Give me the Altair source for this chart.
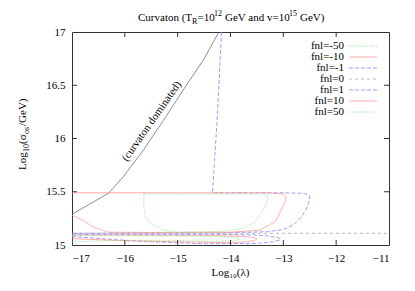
import altair as alt
import pandas as pd

# ---- data ----
black_x = [-17, -16.75, -16.47, -16.3, -16.03, -15.65, -15.27, -14.89, -14.51, -14.22]
black_y = [15.29, 15.36, 15.44, 15.49, 15.64, 15.89, 16.17, 16.46, 16.74, 17.0]

blue_up_x = [-14.17, -14.25, -14.34, -13.5, -13.0, -12.6, -12.5, -12.52, -12.55, -12.65, -12.8, -13.0, -13.3, -14.0, -15.5, -17.0]
blue_up_y = [17.0, 16.2, 15.49, 15.49, 15.49, 15.485, 15.46, 15.4, 15.35, 15.27, 15.19, 15.145, 15.125, 15.115, 15.112, 15.11]

blue_low_x = [-17.0, -16.2, -15.5, -14.5, -13.5, -13.2, -13.08, -13.05, -13.1, -13.3, -13.6, -14.5, -17.0]
blue_low_y = [15.08, 15.05, 15.03, 15.012, 15.015, 15.03, 15.045, 15.055, 15.07, 15.085, 15.095, 15.1, 15.1]

red_up_x = [-17.0, -15.0, -13.3, -13.0, -12.95, -12.97, -13.02, -13.15, -13.44, -14.0, -15.5, -16.3, -16.6, -16.79, -17.0]
red_up_y = [15.49, 15.49, 15.49, 15.48, 15.45, 15.4, 15.35, 15.22, 15.14, 15.12, 15.118, 15.12, 15.17, 15.23, 15.28]

red_low_x = [-17.0, -16.0, -15.0, -14.0, -13.7, -13.55, -13.5, -13.55, -13.7, -14.5, -17.0]
red_low_y = [15.06, 15.04, 15.03, 15.022, 15.03, 15.042, 15.055, 15.068, 15.08, 15.09, 15.095]

green_up_x = [-15.64, -14.5, -13.4, -13.29, -13.31, -13.38, -13.53, -13.8, -14.25, -15.0, -15.28, -15.5, -15.6, -15.64, -15.64]
green_up_y = [15.48, 15.48, 15.48, 15.46, 15.4, 15.33, 15.22, 15.15, 15.125, 15.12, 15.14, 15.2, 15.26, 15.35, 15.48]

green_low_x = [-17.0, -16.0, -15.0, -14.3, -14.0, -13.85, -13.82, -13.9, -14.2, -15.0, -17.0]
green_low_y = [15.03, 15.045, 15.04, 15.035, 15.04, 15.048, 15.057, 15.07, 15.08, 15.085, 15.09]

grey_x = [-17.0, -11.0]
grey_y = [15.11, 15.11]

legend_labels = ["fnl=-50", "fnl=-10", "fnl=-1", "fnl=0", "fnl=1", "fnl=10", "fnl=50"]
legend_kind = ["green", "red", "blue", "grey", "blue", "red", "green"]

x_ticks = [-17, -16, -15, -14, -13, -12, -11]
y_ticks = [15, 15.5, 16, 16.5, 17]

# ---- styles ----
COL = {"green": "#86e286", "red": "#ff9494", "blue": "#8484ff", "grey": "#a6a6a6", "black": "#606060"}
DASH = {"green": [1.5, 1.5], "red": [1, 0], "blue": [4, 2], "grey": [3, 3], "black": [1, 0]}
FONT = "Liberation Serif"
W, H = 317, 213
OX, OY = 72, 32  # plot-area origin on the page

curves = [
    ("black", "black", black_x, black_y),
    ("blue_up", "blue", blue_up_x, blue_up_y),
    ("blue_low", "blue", blue_low_x, blue_low_y),
    ("red_up", "red", red_up_x, red_up_y),
    ("red_low", "red", red_low_x, red_low_y),
    ("green_up", "green", green_up_x, green_up_y),
    ("green_low", "green", green_low_x, green_low_y),
    ("grey", "grey", grey_x, grey_y),
]
rows = []
for name, kind, xs_, ys_ in curves:
    for i, (x, y) in enumerate(zip(xs_, ys_)):
        rows.append({"x": x, "y": y, "curve": name, "kind": kind, "order": i})
df = pd.DataFrame(rows)

xs = alt.Scale(domain=[-17, -11], nice=False, zero=False)
ys = alt.Scale(domain=[15, 17], nice=False, zero=False)

kinds = ["green", "red", "blue", "grey", "black"]
lines = alt.Chart(df).mark_line(strokeWidth=0.8, clip=True).encode(
    x=alt.X("x:Q", scale=xs,
            axis=alt.Axis(values=x_ticks, format="d", title="Log₁₀(λ)", ticks=False, domain=False,
                          grid=False, labelPadding=7, titleX=158, titleY=27,
                          titleBaseline="middle", titleAlign="center")),
    y=alt.Y("y:Q", scale=ys,
            axis=alt.Axis(values=y_ticks, title=None, ticks=False, domain=False,
                          grid=False, labelPadding=7, labelExpr="datum.value")),
    color=alt.Color("kind:N", scale=alt.Scale(domain=kinds, range=[COL[k] for k in kinds]), legend=None),
    strokeDash=alt.StrokeDash("kind:N", scale=alt.Scale(domain=kinds, range=[DASH[k] for k in kinds]), legend=None),
    detail="curve:N",
    order="order:Q",
)

# inward ticks on all four sides
xt = pd.DataFrame({"v": x_ticks[1:-1]})
yt = pd.DataFrame({"v": y_ticks[1:-1]})
tk = dict(color="#333", strokeWidth=1)
tb = alt.Chart(xt).mark_rule(**tk).encode(x=alt.X("v:Q", scale=xs), y=alt.value(H), y2=alt.value(H - 5))
tt = alt.Chart(xt).mark_rule(**tk).encode(x=alt.X("v:Q", scale=xs), y=alt.value(0), y2=alt.value(5))
tl = alt.Chart(yt).mark_rule(**tk).encode(y=alt.Y("v:Q", scale=ys), x=alt.value(0), x2=alt.value(5))
tr = alt.Chart(yt).mark_rule(**tk).encode(y=alt.Y("v:Q", scale=ys), x=alt.value(W), x2=alt.value(W - 5))

# annotation along the black curve
ann = alt.Chart(pd.DataFrame({"x": [-15.49], "y": [16.16], "t": ["(curvaton dominated)"]})).mark_text(
    font=FONT, fontSize=11, angle=305, align="center", baseline="middle", color="#000"
).encode(x=alt.X("x:Q", scale=xs), y=alt.Y("y:Q", scale=ys), text="t:N")

# custom legend (label left, sample right, gnuplot style)
leg_layers = []
for i, (lab, kind) in enumerate(zip(legend_labels, legend_kind)):
    yy = 14 + 11 * i
    leg_layers.append(
        alt.Chart(pd.DataFrame({"t": [lab]})).mark_text(
            font=FONT, fontSize=11, align="right", baseline="middle", color="#000"
        ).encode(x=alt.value(272), y=alt.value(yy), text="t:N")
    )
    leg_layers.append(
        alt.Chart(pd.DataFrame({"k": [kind]})).mark_rule(
            color=COL[kind], strokeDash=DASH[kind], strokeWidth=0.8
        ).encode(x=alt.value(277), x2=alt.value(305), y=alt.value(yy))
    )

# title pieces (with sub/superscripts), page coordinates
title_parts = [
    ("Curvaton (T", 138, 21, 11),
    ("R", 192, 24, 8),
    ("=10", 197.5, 21, 11),
    ("12", 214, 16, 8),
    ("GeV and v=10", 225, 21, 11),
    ("15", 289, 16, 8),
    ("GeV)", 300, 21, 11),
]
title_layers = []
for txt, ax, ay, fs in title_parts:
    title_layers.append(
        alt.Chart(pd.DataFrame({"t": [txt]})).mark_text(
            font=FONT, fontSize=fs, align="left", baseline="alphabetic", color="#000"
        ).encode(x=alt.value(ax - OX), y=alt.value(ay - OY), text="t:N")
    )

# y-axis title pieces, rotated (baseline x, start y on the page)
ytitle_parts = [
    ("Log", 26, 170, 11),
    ("10", 29, 152, 8),
    ("(σ", 26, 144, 11),
    ("os", 29, 134, 8),
    ("/GeV)", 26, 126, 11),
]
for txt, ax, ay, fs in ytitle_parts:
    title_layers.append(
        alt.Chart(pd.DataFrame({"t": [txt]})).mark_text(
            font=FONT, fontSize=fs, align="left", baseline="alphabetic", angle=270, color="#000"
        ).encode(x=alt.value(ax - OX), y=alt.value(ay - OY), text="t:N")
    )

chart = alt.layer(lines, tb, tt, tl, tr, ann, *leg_layers, *title_layers).properties(
    width=W, height=H,
    background="white",
    autosize=alt.AutoSizeParams(type="none"),
    padding={"left": 64, "top": 24, "right": 18, "bottom": 38},
).configure_view(stroke="#333", strokeWidth=1).configure_axis(
    labelFont=FONT, labelFontSize=11, labelColor="#000",
    titleFont=FONT, titleFontSize=11, titleColor="#000", titleFontWeight="normal",
)

chart.save("out.html", embed_options={"renderer": "svg", "actions": False})
